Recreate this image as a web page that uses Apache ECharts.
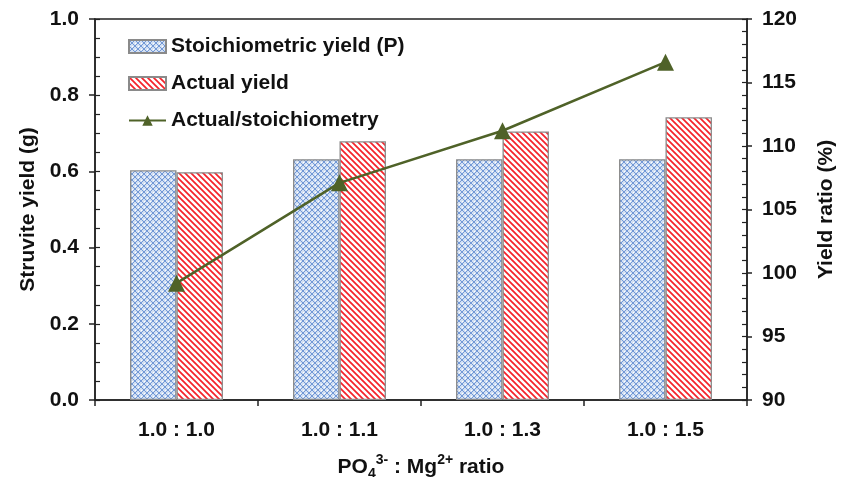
<!DOCTYPE html>
<html><head><meta charset="utf-8">
<script src="https://cdn.jsdelivr.net/npm/echarts@6/dist/echarts.min.js"></script>
<style>html,body{margin:0;padding:0;background:#fff}#chart{width:843px;height:477px}</style>
</head><body><div id="chart"></div>
<script>
// Data
const categories = ['1.0 : 1.0', '1.0 : 1.1', '1.0 : 1.3', '1.0 : 1.5'];
const stoichYield = [0.603, 0.632, 0.632, 0.632];   // g
const actualYield = [0.598, 0.679, 0.705, 0.742];   // g
const yieldRatio  = [99.2, 107.1, 111.2, 116.6];    // %

const FONT = '"Liberation Sans", Arial, sans-serif';
const INK = '#111';
const FS = 21;

// Fill patterns for the bars
function crossPattern() {
  const c = document.createElement('canvas');
  c.width = 6; c.height = 6;
  const g = c.getContext('2d');
  g.fillStyle = '#d3e0f3'; g.fillRect(0, 0, 6, 6);
  g.strokeStyle = '#6690d3'; g.lineWidth = 0.9;
  g.beginPath();
  g.moveTo(-1, -1); g.lineTo(7, 7);
  g.moveTo(-1, 7); g.lineTo(7, -1);
  g.stroke();
  g.fillStyle = '#ffffff';
  g.fillRect(3, 0, 1, 1); g.fillRect(0, 3, 1, 1);
  return c;
}
function stripePattern() {
  const c = document.createElement('canvas');
  c.width = 6; c.height = 6;
  const g = c.getContext('2d');
  g.fillStyle = '#ffffff'; g.fillRect(0, 0, 6, 6);
  g.strokeStyle = '#f5222a'; g.lineWidth = 1.7;
  g.beginPath();
  g.moveTo(-3, -3); g.lineTo(9, 9);
  g.moveTo(-9, -3); g.lineTo(3, 9);
  g.moveTo(3, -3); g.lineTo(15, 9);
  g.stroke();
  return c;
}

const chart = echarts.init(document.getElementById('chart'), null, {renderer: 'canvas'});

const tickLabel = {color: INK, fontFamily: FONT, fontWeight: 'bold', fontSize: FS};
const nameStyle = {color: INK, fontFamily: FONT, fontWeight: 'bold', fontSize: FS};

chart.setOption({
  animation: false,
  backgroundColor: '#fff',
  grid: {
    left: 95, right: 96, top: 19, bottom: 77,
    outerBoundsMode: 'none', containLabel: false,
    show: true, borderColor: '#222', borderWidth: 1.5
  },
  legend: {
    orient: 'vertical', left: 123, top: 31,
    itemWidth: 37, itemHeight: 13, itemGap: 16,
    textStyle: {color: INK, fontFamily: FONT, fontWeight: 'bold', fontSize: FS},
    data: [
      {name: 'Stoichiometric yield (P)', icon: 'rect'},
      {name: 'Actual yield', icon: 'rect'},
      {name: 'Actual/stoichiometry'}
    ]
  },
  xAxis: {
    type: 'category', data: categories,
    axisLine: {lineStyle: {color: '#222', width: 1.5}},
    axisTick: {show: true, length: 6, lineStyle: {color: '#222', width: 1.5}},
    axisLabel: Object.assign({margin: 20}, tickLabel),
    name: '{b|PO}{sub|4}{sup|3-}{b| : Mg}{sup|2+}{b| ratio}',
    nameLocation: 'middle', nameGap: 53,
    nameTextStyle: {
      rich: {
        b: {color: INK, fontFamily: FONT, fontWeight: 'bold', fontSize: FS, lineHeight: 28, verticalAlign: 'middle'},
        sup: {color: INK, fontFamily: FONT, fontWeight: 'bold', fontSize: 14, lineHeight: 28, verticalAlign: 'top'},
        sub: {color: INK, fontFamily: FONT, fontWeight: 'bold', fontSize: 14, lineHeight: 28, verticalAlign: 'bottom'}
      }
    }
  },
  yAxis: [
    {
      type: 'value', position: 'left', min: 0, max: 1, interval: 0.2,
      axisLine: {show: true, lineStyle: {color: '#222', width: 1.5}},
      axisTick: {show: true, length: 6, lineStyle: {color: '#222', width: 1.5}},
      splitLine: {show: false},
      axisLabel: Object.assign({margin: 16, formatter: v => v.toFixed(1)}, tickLabel),
      name: 'Struvite yield (g)', nameLocation: 'middle', nameGap: 50, nameTextStyle: nameStyle
    },
    {
      type: 'value', position: 'right', min: 90, max: 120, interval: 5,
      axisLine: {show: true, lineStyle: {color: '#222', width: 1.5}},
      axisTick: {show: true, length: 5, lineStyle: {color: '#222', width: 1.5}},
      splitLine: {show: false},
      axisLabel: Object.assign({margin: 15}, tickLabel),
      name: 'Yield ratio (%)', nameLocation: 'middle', nameGap: 69, nameTextStyle: nameStyle
    },
    {
      // inner minor ticks, left axis
      type: 'value', position: 'left', min: 0, max: 1, interval: 0.05,
      axisLine: {show: false}, axisLabel: {show: false}, splitLine: {show: false},
      axisTick: {show: true, inside: true, length: 5, lineStyle: {color: '#222', width: 1.2}}
    },
    {
      // inner minor ticks, right axis
      type: 'value', position: 'right', min: 90, max: 120, interval: 1,
      axisLine: {show: false}, axisLabel: {show: false}, splitLine: {show: false},
      axisTick: {show: true, inside: true, length: 5, lineStyle: {color: '#222', width: 1.2}}
    }
  ],
  series: [
    {
      name: 'Stoichiometric yield (P)', type: 'bar', yAxisIndex: 0,
      data: stoichYield, barGap: '0%', barCategoryGap: '43%',
      itemStyle: {color: {image: crossPattern(), repeat: 'repeat'}, borderColor: '#8a8a8a', borderWidth: 1.3}
    },
    {
      name: 'Actual yield', type: 'bar', yAxisIndex: 0,
      data: actualYield, barGap: '0%', barCategoryGap: '43%',
      itemStyle: {color: {image: stripePattern(), repeat: 'repeat'}, borderColor: '#8a8a8a', borderWidth: 1.3}
    },
    {
      name: 'Actual/stoichiometry', type: 'line', yAxisIndex: 1,
      data: yieldRatio, symbol: 'triangle', symbolSize: 17,
      lineStyle: {color: '#4f6228', width: 2.5},
      itemStyle: {color: '#4f6228'},
      z: 5
    }
  ]
});
</script>
</body></html>
